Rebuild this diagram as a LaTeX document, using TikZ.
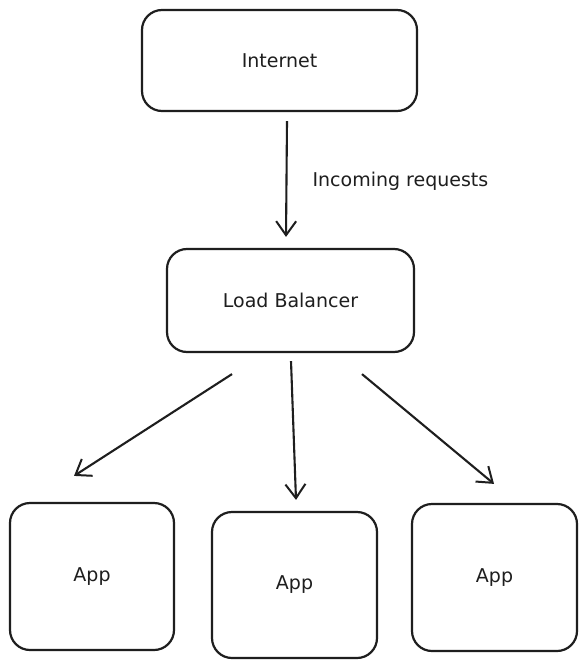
\documentclass[tikz,border=0pt]{standalone}
\usepackage{fontspec}
\setmainfont{DejaVu Sans}
\usetikzlibrary{arrows.meta}
\definecolor{ink}{HTML}{1E1E1E}
\begin{document}
\begin{tikzpicture}[x=1pt,y=-1pt,
  box/.style={draw=ink,line width=2.2pt,rounded corners=20pt,fill=white,
    inner sep=0pt,font=\fontsize{19}{22}\selectfont,text=ink},
  arr/.style={draw=ink,line width=2.1pt,
    -{Straight Barb[length=14pt,width=20pt,line width=2pt]}},
  lbl/.style={font=\fontsize{19}{22}\selectfont,text=ink,inner sep=0pt}]
\useasboundingbox (0,0) rectangle (585,668);
\fill[white] (0,0) rectangle (585,668);
\node[box,minimum width=275pt,minimum height=101pt] (inet) at (279.5,60.5) {Internet};
\node[box,minimum width=247pt,minimum height=103pt] (lb) at (290.5,300.5) {Load Balancer};
\node[box,minimum width=164pt,minimum height=147pt] (app1) at (92,576.5) {App};
\node[box,minimum width=165pt,minimum height=146pt] (app2) at (294.5,585) {App};
\node[box,minimum width=165pt,minimum height=147pt] (app3) at (494.5,577.5) {App};
\draw[arr] ([xshift=7.5pt,yshift=-9pt]inet.south) -- ([xshift=-4.5pt,yshift=11pt]lb.north)
  node[lbl,pos=0.52,anchor=west,xshift=25pt] (lab) {Incoming requests};
\draw[arr] ([xshift=-58.5pt,yshift=-21pt]lb.south) -- ([xshift=-18pt,yshift=26pt]app1.north);
\draw[arr] ([xshift=0.5pt,yshift=-8pt]lb.south) -- ([xshift=1.5pt,yshift=11pt]app2.north);
\draw[arr] ([xshift=71.5pt,yshift=-21pt]lb.south) -- ([xshift=-0.5pt,yshift=19pt]app3.north);
\end{tikzpicture}
\end{document}
